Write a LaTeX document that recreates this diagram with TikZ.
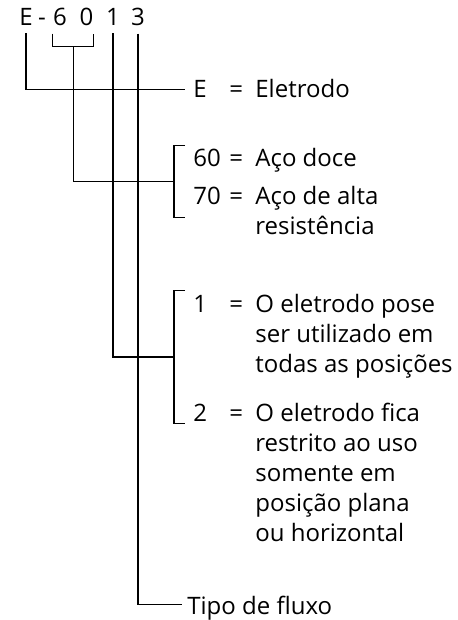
\documentclass[tikz,border=0pt]{standalone}
\usepackage{fontspec}
\setmainfont{Open Sans}
\usetikzlibrary{calc}
\newcommand{\desctext}[1]{\begin{tabular}[t]{@{}l@{}}#1\end{tabular}}

\begin{document}
\begin{tikzpicture}[x=0.5pt,y=-0.5pt,
    every node/.style={font=\fontsize{12}{15}\selectfont, inner sep=0pt},
    chr/.style={anchor=base, inner ysep=3.5pt},
    key/.style={anchor=base west, inner xsep=4pt, text depth=0pt},
    eq/.style={anchor=base west},
    desc/.style={anchor=base west},
    ln/.style={line width=0.65pt}]
  \useasboundingbox (0,0) rectangle (458,620);

  % code
  \node[chr] (cE) at (26,26)   {E};
  \node[chr] (cd) at (42,26)   {-};
  \node[chr] (c6) at (60,26)   {6};
  \node[chr] (c0) at (86.5,26) {0};
  \node[chr] (c1) at (113,26)  {1};
  \node[chr] (c3) at (138,26)  {3};

  % meanings
  \node[key]  (kE)  at (185,98)  {E};
  \node[eq]   (eE)  at (229,98)  {=};
  \node[desc] (dE)  at (255,98)  {Eletrodo};

  \node[key]  (k60) at (185,167) {60};
  \node[eq]   (e60) at (229,167) {=};
  \node[desc] (d60) at (255,167) {Aço doce};

  \node[key]  (k70) at (185,205) {70};
  \node[eq]   (e70) at (229,205) {=};
  \node[desc] (d70) at (255,205) {\desctext{Aço de alta\\resistência}};

  \node[key]  (k1)  at (185,312) {1};
  \node[eq]   (e1)  at (229,312) {=};
  \node[desc] (d1)  at (255,312) {\desctext{O eletrodo pose\\ser utilizado em\\todas as posições}};

  \node[key]  (k2)  at (185,421) {2};
  \node[eq]   (e2)  at (229,421) {=};
  \node[desc] (d2)  at (255,421) {\desctext{O eletrodo fica\\restrito ao uso\\somente em\\posição plana\\ou horizontal}};

  \node[key, inner xsep=2.5pt] (kT) at (182,614) {Tipo de fluxo};

  % brackets
  \draw[ln] (c6.south west) -- ++(0,13) -| (c0.south east);
  \coordinate (s6) at ($(c6.south west)!.5!(c0.south east)+(0,13)$);

  \coordinate (b6t) at ($(k60.north west)+(-11,-4)$);
  \coordinate (b6b) at ($(k70.south west)+(-11,12)$);
  \draw[ln] ($(b6t)+(11,0)$) -- (b6t) -- (b6b) -- ++(11,0);

  \coordinate (b1t) at ($(k1.north west)+(-11,-4)$);
  \coordinate (b1b) at ($(k2.south west)+(-11,2)$);
  \draw[ln] ($(b1t)+(11,0)$) -- (b1t) -- (b1b) -- ++(11,0);

  % leads
  \draw[ln] (cE.south) |- (kE.west);
  \draw[ln] (s6) |- ($(b6t)!.5!(b6b)$);
  \draw[ln] (c1.south) |- ($(b1t)!.5!(b1b)$);
  \draw[ln] (c3.south) |- (kT.west);
\end{tikzpicture}
\end{document}
